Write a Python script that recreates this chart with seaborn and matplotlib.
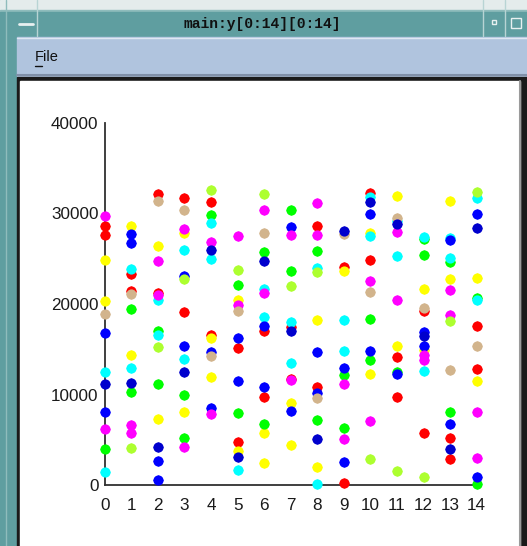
import matplotlib
matplotlib.use("Agg")
import matplotlib.pyplot as plt
from matplotlib.patches import Rectangle
from matplotlib.ticker import MultipleLocator
import pandas as pd
import seaborn as sns

# y[0:14][0:14] values, grouped by plotting colour
red_x = [0, 0, 1, 1, 2, 2, 3, 3, 4, 4, 5, 5, 6, 6, 7, 7, 8, 8, 9, 9, 10, 10, 11, 11, 12, 12, 13, 13, 14, 14]
red_y = [28600, 27570, 23270, 21390, 32170, 21250, 31690, 19080, 31250, 16580, 15150, 4740, 17060, 9780,
         17420, 11760, 28600, 10840, 24110, 290, 32240, 24890, 14150, 9780, 19260, 5810, 5260, 2870, 17530, 12870]

yellow_x = [0, 0, 1, 1, 2, 2, 3, 3, 4, 4, 5, 5, 6, 6, 7, 7, 8, 8, 9, 10, 10, 11, 11, 12, 12, 13, 13, 14, 14]
yellow_y = [24890, 20370, 28600, 14410, 26430, 7350, 27830, 8050, 16210, 11910, 20440, 3820, 5810, 2430,
            9120, 4410, 18230, 1985, 23600, 27790, 12315, 31945, 15400, 21615, 14920, 31390, 22750, 22900, 11470]

green_x = [0, 1, 1, 2, 2, 3, 3, 4, 5, 5, 6, 6, 7, 7, 8, 8, 9, 9, 10, 10, 11, 12, 12, 13, 13, 14, 14]
green_y = [4000, 19480, 10330, 16980, 11175, 9925, 5260, 29810, 22060, 7940, 25770, 6730, 30400, 23600,
           25880, 7240, 12130, 6360, 18380, 13820, 12500, 27200, 25440, 24590, 8050, 20620, 110]

cyan_x = [0, 0, 1, 1, 2, 2, 3, 3, 4, 4, 5, 6, 6, 7, 7, 8, 8, 9, 9, 10, 10, 11, 11, 12, 12, 13, 13, 14, 14]
cyan_y = [12460, 1430, 23820, 12900, 20440, 16580, 25990, 13900, 28970, 25000, 1730, 21690, 18560, 18050,
          13450, 23930, 110, 18230, 14850, 31830, 27530, 29150, 25290, 27420, 12610, 27280, 25070, 31690, 20400]

blue_x = [0, 0, 1, 1, 2, 2, 3, 3, 4, 4, 5, 5, 6, 6, 7, 7, 8, 8, 9, 9, 10, 10, 11, 12, 12, 13, 13, 14, 14]
blue_y = [16840, 8050, 27680, 26690, 2720, 590, 23120, 15400, 14740, 8565, 16285, 11470, 17610, 10810,
          28490, 8200, 14700, 10150, 12900, 2540, 29960, 14850, 12315, 16950, 15400, 27060, 6800, 29960, 880]

magenta_x = [0, 0, 1, 1, 2, 2, 3, 3, 4, 4, 5, 5, 6, 6, 7, 7, 8, 8, 9, 9, 10, 10, 11, 11, 12, 12, 13, 13, 14, 14]
magenta_y = [29670, 6250, 6620, 5770, 24740, 20990, 28270, 4260, 26870, 7830, 27460, 19890, 30400, 21170,
             27570, 11620, 31100, 27570, 11175, 5110, 22500, 7095, 27970, 20480, 14340, 13820, 21500, 18780,
             8090, 2980]

tan_x = [0, 1, 2, 3, 4, 5, 6, 8, 9, 10, 11, 12, 13, 14]
tan_y = [18930, 21060, 31360, 30400, 14260, 19260, 27860, 9590, 27720, 21360, 29480, 19560, 12760, 15400]

lime_x = [1, 2, 3, 4, 5, 6, 7, 8, 10, 11, 12, 13, 14]
lime_y = [4120, 15290, 22750, 32530, 23750, 32090, 21950, 23560, 2870, 1580, 880, 18160, 32390]

navy_x = [0, 1, 2, 3, 4, 5, 6, 7, 8, 9, 10, 11, 12, 13, 14]
navy_y = [11175, 11320, 4260, 12460, 25920, 3090, 24740, 17060, 5110, 28050, 31210, 28820, 16470, 3970, 28380]

x_ticks = list(range(15))
y_ticks = [0, 10000, 20000, 30000, 40000]

groups = [
    ("red", red_x, red_y, "#ff0000"),
    ("yellow", yellow_x, yellow_y, "#ffff00"),
    ("green", green_x, green_y, "#00ff00"),
    ("cyan", cyan_x, cyan_y, "#00ffff"),
    ("blue", blue_x, blue_y, "#0000ff"),
    ("magenta", magenta_x, magenta_y, "#ff00ff"),
    ("tan", tan_x, tan_y, "#d2b48c"),
    ("lime", lime_x, lime_y, "#adff2f"),
    ("navy", navy_x, navy_y, "#0000cd"),
]
frames = [pd.DataFrame({"x": gx, "y": gy, "c": name}) for name, gx, gy, _ in groups]
df = pd.concat(frames, ignore_index=True)

sns.set_style("white")
plt.rcParams["font.family"] = ["Liberation Sans", "DejaVu Sans"]

W, H = 527, 546
fig = plt.figure(figsize=(W / 100, H / 100), dpi=100)

# window chrome drawn in pixel coordinates
bg = fig.add_axes([0, 0, 1, 1])
bg.set_xlim(0, W)
bg.set_ylim(H, 0)
bg.axis("off")
teal = "#5f9ea0"
bg.add_patch(Rectangle((0, 0), W, H, color=teal))
bg.add_patch(Rectangle((0, 0), W, 10, color="#e4ecec"))
bg.add_patch(Rectangle((0, 10), W, 2, color="#8fbcbc"))
bg.add_patch(Rectangle((0, 12), W, 24, color=teal))
for xx in (37, 483, 505):
    bg.plot([xx, xx], [0, 36], color="#b8d4d4", lw=1)
bg.plot([6, 6], [0, 546], color="#8fbcbc", lw=1)
bg.plot([19, 33], [24, 24], color="#e8f0f0", lw=2)
bg.add_patch(Rectangle((492, 20), 4, 4, fill=False, ec="#e8f0f0", lw=1))
bg.add_patch(Rectangle((511, 18), 10, 10, fill=False, ec="#e8f0f0", lw=1))
bg.text(262, 24, "main:y[0:14][0:14]", ha="center", va="center", fontsize=10.5,
        fontweight="bold", family=["Liberation Mono", "DejaVu Sans Mono"], color="#101010")
bg.add_patch(Rectangle((17, 37), W - 17, 39, color="#b0c4de"))
bg.plot([17, W], [37.5, 37.5], color="#dfe8f2", lw=1)
bg.plot([17, W], [74.5, 74.5], color="#8090a8", lw=1.5)
bg.text(35, 57, "File", ha="left", va="center", fontsize=10.5, color="#101010")
bg.plot([35, 42], [66, 66], color="#101010", lw=1)
bg.add_patch(Rectangle((17, 77), W - 17, H - 77, color="#1a1a1a"))
bg.add_patch(Rectangle((20, 81), W - 27, H - 81, color="white"))
bg.plot([W - 7, W - 7], [81, H], color="#9a9a9a", lw=1.5)

# scatter plot
left, right = 104.7, 476.7
top, bottom = 122.7, 485.3
ax = fig.add_axes([left / W, 1 - bottom / H, (right - left) / W, (bottom - top) / H])
ax.patch.set_alpha(0)

for name, gx, gy, col in groups:
    sub = df[df["c"] == name]
    sns.scatterplot(data=sub, x="x", y="y", ax=ax, color=col, marker="+", s=62,
                    linewidth=0.9, legend=False, clip_on=False, zorder=2)
    sns.scatterplot(data=sub, x="x", y="y", ax=ax, color=col, marker="o", s=54,
                    linewidth=0, legend=False, clip_on=False, zorder=3)

ax.set_xlim(0, 14)
ax.set_ylim(0, 40000)
ax.set_xlabel("")
ax.set_ylabel("")
for s in ("top", "right"):
    ax.spines[s].set_visible(False)
for s in ("left", "bottom"):
    ax.spines[s].set_color("#303030")
    ax.spines[s].set_linewidth(1.3)
ax.set_xticks(x_ticks)
ax.set_yticks(y_ticks)
ax.xaxis.set_minor_locator(MultipleLocator(0.5))
ax.yaxis.set_minor_locator(MultipleLocator(5000))
ax.tick_params(axis="both", which="both", direction="inout", length=6, width=1.2,
               color="#303030", labelcolor="#1a1a1a", labelsize=12.3)
ax.tick_params(axis="x", which="major", pad=6)
ax.tick_params(axis="y", which="major", pad=1.5)

fig.savefig("out.png", dpi=100)
